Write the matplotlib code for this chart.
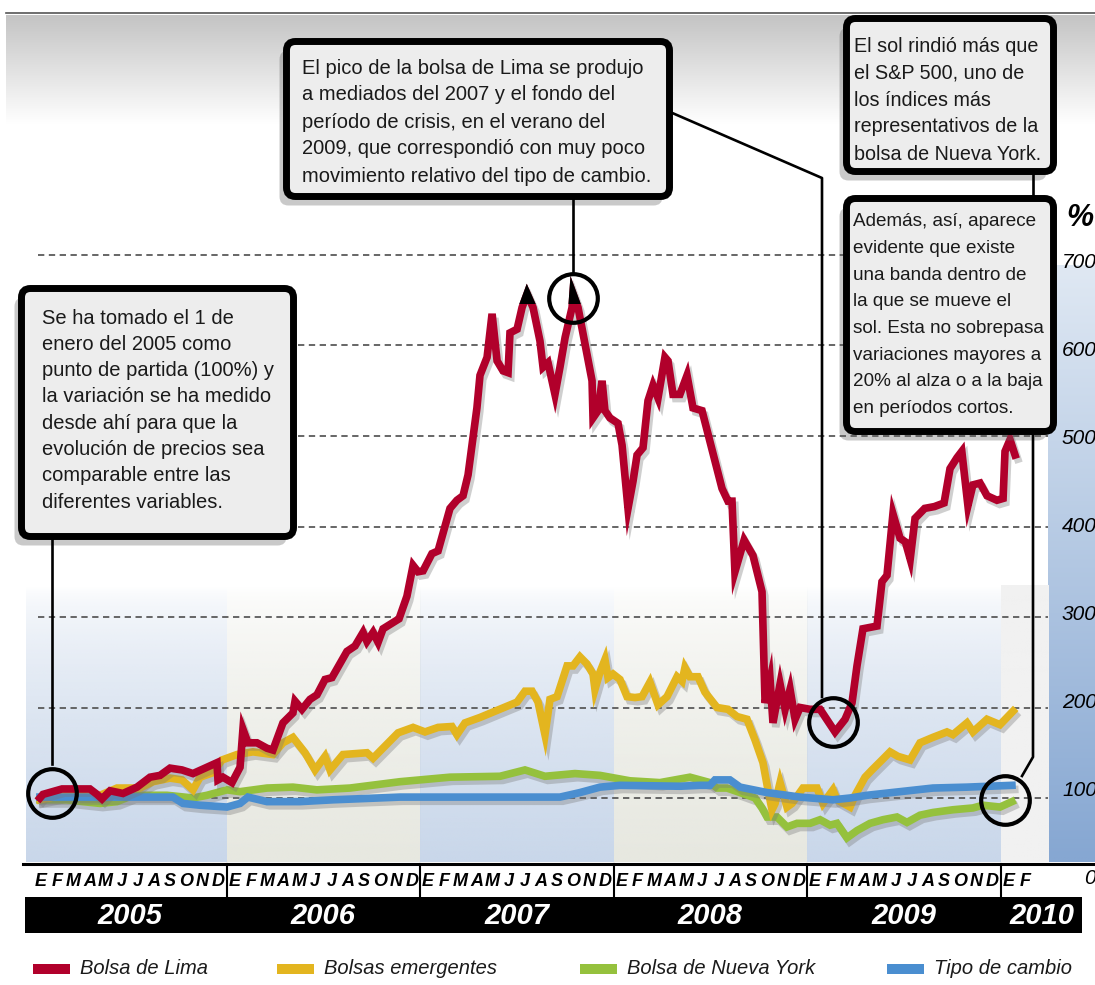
import numpy as np
import matplotlib.pyplot as plt
import matplotlib.patheffects as pe
from matplotlib.patches import FancyBboxPatch, Rectangle
from matplotlib import transforms
from matplotlib.colors import to_rgb

plt.rcParams['font.family'] = ['Liberation Sans', 'DejaVu Sans']

# ---- data: months counted from 1 Jan 2005, values in % (1 Jan 2005 = 100) ----
lima_m = [0.43, 0.62, 1.80, 3.53, 3.97, 4.28, 4.78, 5.58, 6.45, 7.26, 7.88, 8.50, 9.24, 9.92,
          10.79, 11.41, 11.47, 11.78, 12.34, 12.84, 13.02, 13.33, 13.89, 14.51, 14.88, 15.50,
          16.12, 16.25, 16.68, 17.18, 17.61, 18.11, 18.54, 19.47, 19.97, 20.47, 20.71, 21.09,
          21.40, 21.71, 22.70, 23.19, 23.57, 23.88, 24.19, 24.74, 25.12, 25.86, 26.29, 26.67,
          26.98, 27.53, 27.72, 28.16, 28.47, 28.78, 29.15, 29.46, 29.58, 30.02, 30.33, 30.64,
          31.01, 31.44, 31.63, 31.94, 32.37, 32.68, 33.00, 33.43, 33.49, 33.80, 34.36, 34.67,
          34.73, 35.04, 35.29, 35.47, 35.78, 36.28, 36.53, 36.90, 37.21, 37.46, 37.83, 38.14,
          38.45, 38.76, 39.19, 39.38, 39.69, 40.12, 40.56, 40.93, 41.49, 41.98, 42.73, 43.10,
          43.35, 43.53, 44.10, 44.65, 45.21, 45.40, 45.71, 45.89, 46.33, 46.64, 46.95, 47.26,
          47.57, 48.19, 48.81, 49.74, 50.36, 50.79, 51.10, 51.47, 52.03, 52.34, 52.65, 52.96,
          53.33, 53.77, 54.10, 54.40, 54.70, 55.30, 55.90, 56.50, 56.87, 57.30, 57.60, 57.98,
          58.29, 58.73, 59.16, 59.78, 60.16, 60.28, 60.59, 60.90]
lima_v = [100, 104, 110, 110, 104, 99, 108, 105, 112, 123, 125, 133, 131, 127,
          134, 139, 120, 123, 117, 134, 176, 161, 161, 155, 153, 183,
          194, 207, 198, 209, 214, 231, 233, 262, 268, 283, 273, 283,
          272, 287, 298, 323, 357, 350, 351, 370, 373, 420, 429, 434,
          457, 531, 567, 587, 635, 583, 572, 570, 614, 618, 642, 657,
          642, 605, 576, 581, 546, 576, 609, 642, 657, 642, 590, 561,
          520, 528, 561, 528, 520, 514, 490, 420, 450, 479, 487, 539,
          556, 542, 587, 583, 546, 546, 567, 531, 528, 494, 442, 428,
          428, 350, 385, 368, 328, 205, 231, 183, 226, 198, 220, 187,
          200, 198, 198, 173, 187, 205, 246, 287, 289, 290, 339, 346,
          414, 387, 383, 364, 409, 420, 422, 426, 464, 476, 483, 423,
          446, 448, 434, 429, 431, 483, 496, 479]

emerg_m = [0.43, 1.80, 4.16, 5.21, 6.64, 7.44, 8.50, 9.24, 9.92, 10.36, 11.16, 11.72, 12.65,
           13.64, 14.88, 15.50, 16.12, 16.87, 17.49, 18.11, 18.42, 19.22, 20.71, 21.09, 22.64,
           23.57, 24.31, 25.12, 25.98, 26.29, 26.79, 27.72, 30.02, 30.51, 30.95, 31.32, 31.75,
           32.06, 32.50, 33.12, 33.49, 33.92, 34.36, 34.73, 34.85, 35.16, 35.47, 35.66, 35.97,
           36.40, 36.84, 37.33, 37.77, 38.26, 38.76, 39.32, 39.94, 40.25, 40.43, 40.74, 41.24,
           41.67, 42.42, 43.10, 43.66, 44.28, 44.78, 45.27, 45.58, 45.83, 46.02, 46.33, 46.76,
           47.07, 47.75, 48.62, 48.99, 49.61, 49.86, 50.67, 50.98, 51.60, 52.03, 52.65, 53.15,
           53.64, 54.39, 55.01, 55.81, 56.68, 57.05, 57.92, 58.29, 59.16, 59.97, 60.78]
emerg_v = [98, 103, 103, 111, 111, 118, 122, 120, 109, 123, 128, 142, 148,
           151, 148, 161, 167, 150, 131, 146, 131, 148, 150, 144, 172,
           178, 173, 178, 179, 170, 183, 189, 206, 218, 218, 206, 170,
           209, 212, 246, 246, 256, 248, 237, 220, 239, 253, 233, 237,
           231, 212, 211, 212, 228, 203, 212, 234, 229, 244, 234, 234,
           217, 200, 198, 190, 187, 164, 139, 109, 87, 94, 117, 90,
           94, 111, 111, 94, 109, 98, 90, 103, 123, 131, 142, 151,
           146, 142, 161, 167, 173, 170, 183, 173, 187, 181, 196]

ny_m = [0.43, 2.11, 3.10, 4.16, 5.21, 6.20, 8.31, 9.92, 10.79, 12.03, 12.84, 14.51, 16.12,
        17.61, 19.66, 22.76, 25.86, 28.96, 30.51, 31.75, 33.61, 35.16, 37.02, 38.88, 40.74,
        41.36, 41.98, 42.42, 43.04, 43.85, 44.78, 45.21, 45.52, 46.14, 46.76, 47.38, 48.19,
        48.81, 49.43, 49.86, 50.48, 51.10, 51.91, 52.71, 53.58, 54.20, 55.01, 55.81, 57.05,
        58.29, 58.91, 59.97, 60.71]
ny_v = [98, 98, 96, 94, 96, 103, 103, 100, 103, 109, 107, 111, 112,
        109, 111, 118, 123, 124, 131, 124, 127, 125, 119, 117, 123,
        120, 117, 111, 111, 106, 100, 89, 79, 79, 68, 72, 72,
        76, 70, 72, 56, 64, 72, 76, 79, 73, 81, 84, 87,
        89, 92, 90, 96]

tc_m = [0.43, 3.10, 8.68, 9.30, 10.36, 12.03, 12.84, 13.33, 14.51, 16.56, 18.60, 22.76,
        32.68, 33.92, 35.16, 36.40, 40.12, 41.36, 41.98, 42.29, 43.22, 43.85, 45.52, 47.57,
        49.61, 50.67, 51.72, 53.77, 55.81, 57.92, 60.71]
tc_v = [101, 101, 101, 94, 92, 90, 94, 101, 96, 96, 98, 101,
        101, 106, 112, 114, 113, 114, 114, 120, 120, 112, 106, 101,
        98, 100, 103, 107, 111, 112, 114]

grid_levels = [100, 200, 300, 400, 500, 600, 700]
tick_labels = ['100', '200', '300', '400', '500', '600', '700']
years = ['2005', '2006', '2007', '2008', '2009', '2010']
month_letters = ['E', 'F', 'M', 'A', 'M', 'J', 'J', 'A', 'S', 'O', 'N', 'D']

RED, YEL, GRN, BLU = '#b1002b', '#e3b51f', '#95c13d', '#4a8ed0'

W, H = 1095, 985
fig = plt.figure(figsize=(W / 100, H / 100), dpi=100)

# pixel-space layers
bg = fig.add_axes([0, 0, 1, 1], zorder=0)
ov = fig.add_axes([0, 0, 1, 1], zorder=2)

L, R, T, B = 26, 1095, 15, 862
ax = fig.add_axes([L / W, (H - B) / H, (R - L) / W, (B - T) / H], zorder=1)
PXM = 16.125  # pixels per month
XL = ((L - 33) / PXM, (R - 33) / PXM)
YL = ((888.5 - B) / 0.905, (888.5 - T) / 0.905)
x_end = (1048 - 33) / PXM


def vgrad(top, bottom, n=64, a_top=1.0, a_bot=1.0, gamma=1.0):
    t = np.linspace(0, 1, n)[:, None]
    rgb = np.array(to_rgb(top)) * (1 - t) + np.array(to_rgb(bottom)) * t
    a = a_top + (a_bot - a_top) * t ** gamma
    return np.concatenate([rgb, a], axis=1)[:, None, :]


# top gray haze, right panel
bg.imshow(vgrad('#c4c4c4', '#ffffff'), extent=(6, W, 125, 15), aspect='auto', interpolation='bilinear')
bg.imshow(vgrad('#dfe8f3', '#86a7d2'), extent=(1048, W, B, 265), aspect='auto', interpolation='bilinear')
bg.plot([6, W], [13, 13], color='#555555', lw=1.2)
bg.set_xlim(0, W)
bg.set_ylim(H, 0)
bg.axis('off')

# year background bands
band_cols = ['#c9d7ea', '#e7e8e0', '#c9d7ea', '#e7e8e0', '#c9d7ea', '#f1f1f1']
for k, col in enumerate(band_cols):
    x0 = XL[0] if k == 0 else 12 * k
    x1 = x_end if k == 5 else 12 * (k + 1)
    g = vgrad(col, col, a_top=0.0, a_bot=1.0, gamma=0.6) if k < 5 else vgrad(col, col)
    ax.imshow(g, extent=(x0, x1, YL[0], 335), aspect='auto', interpolation='bilinear', zorder=0)
ax.set_xlim(*XL)
ax.set_ylim(*YL)
ax.axis('off')

ax.hlines(grid_levels, 0.3, x_end, colors='#5a5a5a', linestyles=(0, (3.5, 2.5)), lw=1.3, zorder=2)

shadow = [pe.SimpleLineShadow(offset=(2, -3), shadow_color='#777777', alpha=0.35), pe.Normal()]
for xs, ys, c, z in [(ny_m, ny_v, GRN, 3), (emerg_m, emerg_v, YEL, 4),
                     (tc_m, tc_v, BLU, 5), (lima_m, lima_v, RED, 6)]:
    ax.plot(xs, ys, color=c, lw=5.5, zorder=z, solid_joinstyle='miter', path_effects=shadow)

# black tips on the 2007 peaks
tip, = ax.plot(lima_m, lima_v, color='black', lw=5.5, zorder=7, solid_joinstyle='miter')
tip.set_clip_path(Rectangle((20, 646), 20, 100, transform=ax.transData))

# highlight circles
circ_m = [1.18, 33.49, 49.61, 60.28]
circ_v = [106, 653, 184, 98]
ax.plot(circ_m, circ_v, 'o', ms=35, mfc='none', mec='black', mew=3, zorder=8)

# ---- overlay: callouts, axis strip, legend ----
ov.set_xlim(0, W)
ov.set_ylim(H, 0)
ov.axis('off')


def callout(x0, y0, x1, y1, lines, tx, ty, step, fs=14.5):
    ov.add_patch(FancyBboxPatch((x0 - 7, y0 + 9), x1 - x0, y1 - y0,
                                boxstyle='round,pad=0,rounding_size=9', fc='#666666',
                                ec='none', alpha=0.35, zorder=1))
    ov.add_patch(FancyBboxPatch((x0, y0), x1 - x0, y1 - y0,
                                boxstyle='round,pad=0,rounding_size=9', fc='#ededed',
                                ec='black', lw=5, zorder=2))
    for i, s in enumerate(lines):
        ov.text(tx, ty + i * step, s, fontsize=fs, va='center', ha='left',
                color='#1a1a1a', zorder=3)


callout(21.5, 288.5, 293.5, 536.5,
        ['Se ha tomado el 1 de', 'enero del 2005 como', 'punto de partida (100%) y',
         'la variación se ha medido', 'desde ahí para que la', 'evolución de precios sea',
         'comparable entre las', 'diferentes variables.'], 42, 318, 26.3)
callout(286.5, 41.5, 669.5, 196.5,
        ['El pico de la bolsa de Lima se produjo', 'a mediados del 2007 y el fondo del',
         'período de crisis, en el verano del', '2009, que correspondió con muy poco',
         'movimiento relativo del tipo de cambio.'], 302, 68, 27)
callout(846.5, 18.5, 1053.5, 171.5,
        ['El sol rindió más que', 'el S&P 500, uno de', 'los índices más',
         'representativos de la', 'bolsa de Nueva York.'], 854, 46, 27, fs=14.2)
callout(846.5, 198.5, 1053.5, 431.5,
        ['Además, así, aparece', 'evidente que existe', 'una banda dentro de',
         'la que se mueve el', 'sol. Esta no sobrepasa', 'variaciones mayores a',
         '20% al alza o a la baja', 'en períodos cortos.'], 853, 222, 26.6, fs=13.6)

lk = dict(color='black', lw=1.9, zorder=1.5)
ov.plot([52, 52], [537, 764], **lk)
ov.plot([573, 573], [197, 272], **lk)
ov.plot([670, 822, 822], [112, 178, 697], **lk)
ov.plot([1033, 1033], [171, 199], **lk)
ov.plot([1033, 1033, 1022], [432, 757, 776], **lk)

# % and value labels on the right
ov.text(1066, 218, '%', fontsize=22, fontweight='bold', style='italic', va='center', ha='left')
for lv, lab in zip(grid_levels, tick_labels):
    ov.text(1062, 878 - 0.88 * lv, lab, fontsize=15, style='italic', va='center', ha='left')
ov.text(1084, 878, '0', fontsize=15, style='italic', va='center', ha='left')

# month strip and year band
xtr = transforms.blended_transform_factory(ax.transData, ov.transData)
ov.plot([23, W], [864, 864], color='black', lw=2.2, zorder=3)
for k in range(1, 6):
    ov.plot([12 * k, 12 * k], [864, 897], color='black', lw=1.5, transform=xtr, zorder=3)
for k in range(6):
    n = 12 if k < 5 else 2
    for i in range(n):
        ov.text(12 * k + i + 0.5, 881, month_letters[i], transform=xtr, fontsize=13,
                fontweight='bold', style='italic', ha='center', va='center')
ov.add_patch(Rectangle((25, 897), 1057, 36, fc='black', ec='none', zorder=3))
year_pos = [6, 18, 30, 42, 54, 62.6]
for xp, yr in zip(year_pos, years):
    ov.text(xp, 916, yr, transform=xtr, color='white', fontsize=21, fontweight='bold',
            style='italic', ha='center', va='center', zorder=4)

# legend
leg = [(33, 'Bolsa de Lima', RED), (277, 'Bolsas emergentes', YEL),
       (580, 'Bolsa de Nueva York', GRN), (887, 'Tipo de cambio', BLU)]
for lx, name, c in leg:
    ov.add_patch(Rectangle((lx, 964), 37, 10, fc=c, ec='none'))
    ov.text(lx + 47, 969, name, fontsize=14.5, style='italic', ha='left', va='center',
            color='#1a1a1a')

fig.savefig('out.png', dpi=100)
